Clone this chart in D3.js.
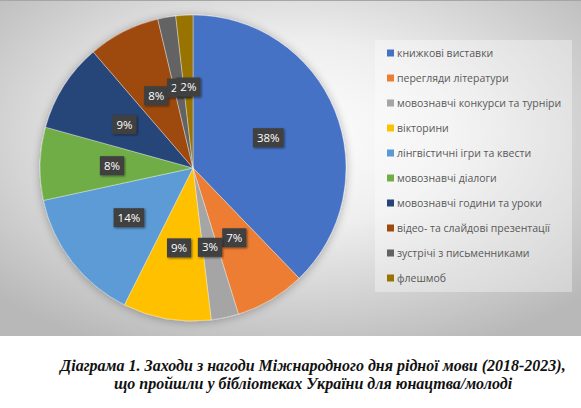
<!DOCTYPE html>
<meta charset="utf-8">
<script src="https://d3js.org/d3.v7.min.js"></script>
<style>
    body { margin: 0; background: #fff; }
    .legend text { font-family: "Open Sans", sans-serif; font-size: 10.5px; fill: #595959; }
    .lbl text { font-family: "Open Sans", sans-serif; font-size: 11.5px; fill: #fff; }
    .caption { font-family: "Liberation Serif", "Times New Roman", serif; font-weight: bold; font-style: italic; font-size: 16px; fill: #111; }
</style>
<body>
<div id="chart"></div>
<script>
    var categories = [
        "книжкові виставки",
        "перегляди літератури",
        "мовознавчі конкурси та турніри",
        "вікторини",
        "лінгвістичні ігри та квести",
        "мовознавчі діалоги",
        "мовознавчі години та уроки",
        "відео- та слайдові презентації",
        "зустрічі з письменниками",
        "флешмоб"
    ]
    var values = [37.8, 7.4, 2.9, 9.3, 14.2, 7.7, 9.4, 7.6, 1.9, 1.8]
    var colors = ["#4472C4", "#ED7D31", "#A5A5A5", "#FFC000", "#5B9BD5",
                  "#70AD47", "#264478", "#9E480E", "#636363", "#997300"]
    var captionLines = [
        "Діаграма 1. Заходи з нагоди Міжнародного дня рідної мови (2018-2023),",
        "що пройшли у бібліотеках України для юнацтва/молоді"
    ]

    const width = 581, height = 408;
    const chartH = 336;
    const cx = 193, cy = 168, radius = 153;

    var svg = d3.select("#chart").append("svg")
        .attr("width", width)
        .attr("height", height);

    var defs = svg.append("defs");
    var grad = defs.append("radialGradient")
        .attr("id", "bg")
        .attr("cx", "50%").attr("cy", "40%").attr("r", "70%");
    grad.append("stop").attr("offset", "0%").attr("stop-color", "#ffffff");
    grad.append("stop").attr("offset", "40%").attr("stop-color", "#eeeeee");
    grad.append("stop").attr("offset", "100%").attr("stop-color", "#b8b8b8");

    var glow = defs.append("filter").attr("id", "glow")
        .attr("x", "-20%").attr("y", "-20%").attr("width", "140%").attr("height", "140%");
    glow.append("feGaussianBlur").attr("in", "SourceAlpha").attr("stdDeviation", 5);
    glow.append("feOffset").attr("dx", 0).attr("dy", 1).attr("result", "b");
    glow.append("feComponentTransfer").append("feFuncA").attr("type", "linear").attr("slope", 0.3);
    var gm = glow.append("feMerge");
    gm.append("feMergeNode");
    gm.append("feMergeNode").attr("in", "SourceGraphic");

    var shadow = defs.append("filter").attr("id", "shadow")
        .attr("x", "-30%").attr("y", "-30%").attr("width", "160%").attr("height", "160%");
    shadow.append("feDropShadow").attr("dx", 1).attr("dy", 1)
        .attr("stdDeviation", 1).attr("flood-color", "#000").attr("flood-opacity", 0.5);

    // chart area
    svg.append("rect")
        .attr("x", 0).attr("y", 0)
        .attr("width", width).attr("height", chartH)
        .attr("fill", "url(#bg)");
    svg.append("line")
        .attr("x1", 0).attr("x2", width).attr("y1", 0.5).attr("y2", 0.5)
        .attr("stroke", "#a6a6a6");

    // pie
    var pie = d3.pie().sort(null).value(d => d);
    var arcs = pie(values);
    var total = d3.sum(values);
    var arc = d3.arc().innerRadius(0).outerRadius(radius);
    var labelArc = d3.arc().innerRadius(radius * 0.53).outerRadius(radius * 0.53);

    var g = svg.append("g").attr("transform", `translate(${cx},${cy})`);

    g.append("g").attr("filter", "url(#glow)")
        .selectAll("path")
        .data(arcs)
        .enter().append("path")
        .attr("d", arc)
        .attr("fill", (d, i) => colors[i])
        .attr("stroke", "#ffffff")
        .attr("stroke-opacity", 0.6)
        .attr("stroke-width", 0.6);

    var lbl = g.selectAll("g.lbl")
        .data(arcs)
        .enter().append("g")
        .attr("class", "lbl")
        .attr("transform", d => `translate(${labelArc.centroid(d)})`);

    lbl.each(function (d) {
        var sel = d3.select(this);
        var txt = Math.round(d.value / total * 100) + "%";
        var t = sel.append("text")
            .attr("text-anchor", "middle")
            .attr("dy", "0.36em")
            .text(txt);
        var w = t.node().getComputedTextLength() + 8;
        sel.insert("rect", "text")
            .attr("x", -w / 2).attr("y", -9.5)
            .attr("width", w).attr("height", 19)
            .attr("fill", "#404040")
            .attr("filter", "url(#shadow)");
    });

    // legend
    svg.append("rect")
        .attr("x", 375).attr("y", 40)
        .attr("width", 197).attr("height", 252)
        .attr("fill", "#ffffff").attr("fill-opacity", 0.35);

    var yLeg = d3.scalePoint().domain(categories).range([53, 278]);
    var legend = svg.append("g").attr("class", "legend")
        .selectAll("g")
        .data(categories)
        .enter().append("g")
        .attr("transform", d => `translate(387,${yLeg(d)})`);
    legend.append("rect")
        .attr("x", 0).attr("y", -3.5)
        .attr("width", 7).attr("height", 7)
        .attr("fill", (d, i) => colors[i]);
    legend.append("text")
        .attr("x", 10).attr("dy", "0.35em")
        .text(d => d);

    // caption
    svg.selectAll("text.caption")
        .data(captionLines)
        .enter().append("text")
        .attr("class", "caption")
        .attr("text-anchor", "middle")
        .attr("x", 313)
        .attr("y", (d, i) => 371 + i * 18)
        .text(d => d);
</script>
</body>
